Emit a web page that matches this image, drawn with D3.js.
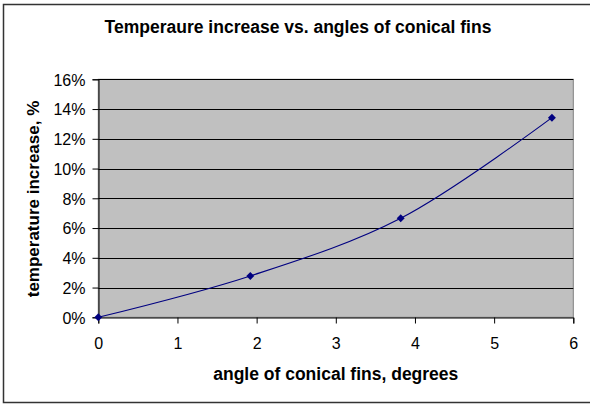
<!DOCTYPE html>
<html><head><meta charset="utf-8">
<script src="https://cdn.jsdelivr.net/npm/d3@7"></script>
<style>body{margin:0;background:#fff}svg{display:block}</style>
</head><body>
<script>
const angles = [0, 1.92, 3.82, 5.73];
const increases = [0.0, 0.0278, 0.0666, 0.1342];
const xTicks = [0, 1, 2, 3, 4, 5, 6];
const yTicks = [0, 0.02, 0.04, 0.06, 0.08, 0.10, 0.12, 0.14, 0.16];
const title = "Temperaure increase vs. angles of conical fins";
const xTitle = "angle of conical fins, degrees";
const yTitle = "temperature increase, %";

const W = 590, H = 404;
const L = 98.3, R = 573.3, T = 79.3, B = 317.3;
const svg = d3.select("body").append("svg").attr("width", W).attr("height", H);
const font = "Arial, 'Liberation Sans', sans-serif";

svg.append("rect").attr("x", 3.5).attr("y", 4.5).attr("width", 600).attr("height", 398)
  .attr("fill", "#fff").attr("stroke", "#333").attr("stroke-width", 1.5);

const x = d3.scaleLinear().domain([0, 6]).range([L, R]);
const y = d3.scaleLinear().domain([0, 0.16]).range([B, T]);

svg.append("rect").attr("x", L).attr("y", T).attr("width", R - L).attr("height", B - T)
  .attr("fill", "#c0c0c0").attr("stroke", "#808080").attr("stroke-width", 1);

// gridlines
svg.append("g").selectAll("line").data(yTicks.slice(1)).join("line")
  .attr("x1", L).attr("x2", R).attr("y1", d => Math.round(y(d)) + 0.5).attr("y2", d => Math.round(y(d)) + 0.5)
  .attr("stroke", "#000").attr("stroke-width", 1);

// y axis
const yAxis = svg.append("g").attr("transform", `translate(${Math.round(L) + 0.5},0)`)
  .call(d3.axisLeft(y).tickValues(yTicks).tickFormat(d3.format(".0%")).tickSize(6).tickPadding(7));
// x axis
const xAxis = svg.append("g").attr("transform", `translate(0,${Math.round(B) + 0.5})`)
  .call(d3.axisBottom(x).tickValues(xTicks).tickFormat(d3.format("d")).tickSize(6).tickPadding(14));
[yAxis, xAxis].forEach(a => {
  a.select(".domain").attr("stroke", "#000");
  a.selectAll(".tick line").attr("stroke", "#000");
  a.selectAll("text").attr("font-family", font).attr("font-size", 16).attr("fill", "#000");
});
yAxis.selectAll("text").attr("dy", "0.36em");

// series line
const line = d3.line().x((d, i) => x(angles[i])).y(d => y(d)).curve(d3.curveCatmullRom.alpha(0.5));
svg.append("path").datum(increases).attr("d", line)
  .attr("fill", "none").attr("stroke", "#000080").attr("stroke-width", 1.1);

const sym = d3.symbol().type(d3.symbolDiamond2).size(40);
svg.append("g").selectAll("path").data(increases).join("path")
  .attr("d", sym)
  .attr("transform", (d, i) => `translate(${x(angles[i])},${y(d)})`)
  .attr("fill", "#000080");

svg.append("text").attr("x", 298).attr("y", 33).attr("text-anchor", "middle")
  .attr("font-family", font).attr("font-weight", "bold").attr("font-size", 17.5).text(title);
svg.append("text").attr("x", (L + R) / 2).attr("y", 380).attr("text-anchor", "middle")
  .attr("font-family", font).attr("font-weight", "bold").attr("font-size", 17.5).text(xTitle);
svg.append("text").attr("transform", "translate(39,199) rotate(-90)").attr("text-anchor", "middle")
  .attr("font-family", font).attr("font-weight", "bold").attr("font-size", 17).text(yTitle);
</script>
</body></html>
